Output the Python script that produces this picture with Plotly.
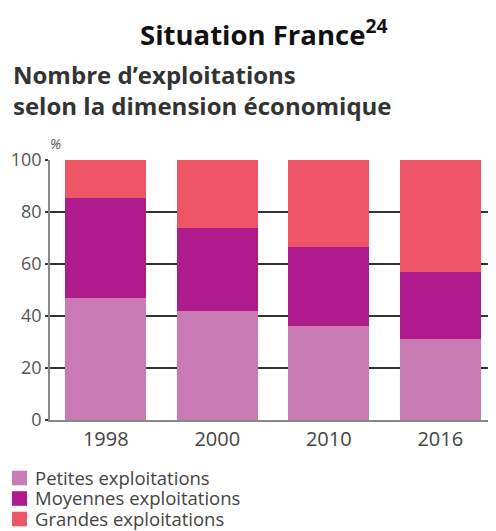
import plotly.graph_objects as go

years = ["1998", "2000", "2010", "2016"]
series_names = ["Petites exploitations", "Moyennes exploitations", "Grandes exploitations"]
petites = [47, 42, 36, 31]
moyennes = [38.5, 32, 30.5, 26]
grandes = [14.5, 26, 33.5, 43]
colors = ["#C97CB4", "#AF1A8C", "#EE5567"]
y_ticks = [0, 20, 40, 60, 80, 100]

# the page body adds an 8px offset; figure coordinates = page coordinates - 8
OFF = 8
W, H = 496, 531
L = 50 - OFF
T = 160 - OFF
pw, ph = 446, 260
R = W - L - pw
B = H - T - ph

def px(x):  # page pixel -> paper
    return (x - OFF - L) / pw

def py(y):
    return (T + ph - (y - OFF)) / ph

fig = go.Figure()
for name, vals, col in zip(series_names, [petites, moyennes, grandes], colors):
    fig.add_trace(go.Bar(x=years, y=vals, name=name, marker=dict(color=col, line=dict(width=0)),
                         width=0.727, showlegend=False))

annotations = [
    dict(text="<b>Situation France<sup>24</sup></b>", x=px(263), y=py(32),
         font=dict(size=27.5, color="#111"), xanchor="center", yanchor="middle"),
    dict(text="<b>Nombre d’exploitations<br>selon la dimension économique</b>", x=px(11), y=py(90),
         font=dict(size=24, color="#333"), xanchor="left", yanchor="middle", align="left"),
    dict(text="<i>%</i>", x=px(55), y=py(143), font=dict(size=14, color="#555"),
         xanchor="center", yanchor="middle"),
]
shapes = []
for i, (name, col) in enumerate(zip(series_names, colors)):
    yc = 478 + 20.5 * i
    shapes.append(dict(type="rect", xref="paper", yref="paper", x0=px(12), x1=px(27),
                       y0=py(yc - 7.3), y1=py(yc + 7.3), fillcolor=col, line=dict(width=0)))
    annotations.append(dict(text=name, x=px(33), y=py(yc - 1), xanchor="left", yanchor="middle",
                            font=dict(size=18.5, color="#444")))
for a in annotations:
    a.update(xref="paper", yref="paper", showarrow=False)

fig.update_layout(
    width=W, height=H,
    margin=dict(l=L, r=R, t=T, b=B, autoexpand=False),
    barmode="stack",
    plot_bgcolor="white", paper_bgcolor="white",
    font=dict(family="Open Sans", color="#444"),
    showlegend=False,
    xaxis=dict(range=[-0.5, 3.5], showgrid=False, showline=True, linecolor="#888", linewidth=1.5,
               tickfont=dict(size=20, color="#444"), ticks="", ticklen=0),
    yaxis=dict(range=[0, 100], tickvals=y_ticks, showgrid=True, gridcolor="#333", gridwidth=1.5,
               showline=True, linecolor="#888", linewidth=1.5, zeroline=False,
               tickfont=dict(size=18, color="#555"), ticks="outside", ticklen=3, tickcolor="#333",
               tickwidth=1.5),
    annotations=annotations,
    shapes=shapes,
)

fig.write_html("out.html")
